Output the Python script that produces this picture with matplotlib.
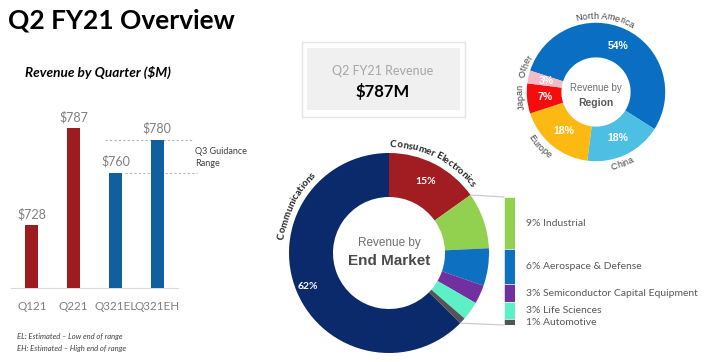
import numpy as np
import matplotlib
matplotlib.use('Agg')
import matplotlib.pyplot as plt
from matplotlib.patches import Rectangle, ConnectionPatch
from matplotlib.textpath import TextToPath
from matplotlib.font_manager import FontProperties

# data
quarters = ['Q121', 'Q221', 'Q321EL', 'Q321EH']
revenue = [728, 787, 760, 780]
guidance = [760, 780]

regions = ['North America', 'China', 'Europe', 'Japan', 'Other']
region_share = [54, 18, 18, 7, 3]

markets = ['Consumer Electronics', 'Industrial', 'Aerospace & Defense',
           'Semiconductor Capital Equipment', 'Life Sciences', 'Automotive',
           'Communications']
market_share = [15, 9, 6, 3, 3, 1, 62]

W, H = 707, 362
body = 'Lato'
arial = 'Liberation Sans'
grey = '#7f7f7f'
dark = '#404040'

fig = plt.figure(figsize=(W / 100, H / 100), dpi=100)


def px_axes(x0, y0, w, h):
    return fig.add_axes([x0 / W, 1 - (y0 + h) / H, w / W, h / H])


# background axes in pixel coords
bg = px_axes(0, 0, W, H)
bg.set_xlim(0, W)
bg.set_ylim(H, 0)
bg.axis('off')

bg.text(8, 28, 'Q2 FY21 Overview', fontsize=19, fontweight='bold',
        family=body, color='black', va='baseline')
bg.text(25, 72, 'Revenue by Quarter ($M)', fontsize=9.8, fontweight='bold',
        style='italic', family=body, color='black', va='center')
bg.text(17, 337, 'EL: Estimated \u2013 Low end of range', fontsize=5.5,
        style='italic', family=body, color=dark, va='center')
bg.text(17, 348, 'EH: Estimated \u2013 High end of range', fontsize=5.5,
        style='italic', family=body, color=dark, va='center')

# revenue box
bg.add_patch(Rectangle((302, 42), 163, 75, facecolor='white',
                       edgecolor='#e4e4e4', lw=1))
bg.add_patch(Rectangle((307, 48), 153, 62, facecolor='#f0f0f0',
                       edgecolor='none'))
bg.text(383, 71, 'Q2 FY21 Revenue', fontsize=9, family=body,
        color='#a6a6a6', ha='center', va='center')
bg.text(383, 92, '$787M', fontsize=12, fontweight='bold', family=body,
        color='black', ha='center', va='center')

# bar chart
ax = px_axes(11, 107, 167, 181)
colors = ['#9e1b20', '#9e1b20', '#10609f', '#10609f']
x = np.arange(len(quarters))
ax.bar(x, revenue, width=0.31, color=colors, zorder=3)
ax.set_xlim(-0.5, 3.5)
ax.set_ylim(690, 800)
for i, v in enumerate(revenue):
    ax.text(i, v + 3, f'${v}', ha='center', va='bottom', fontsize=9,
            family=body, color=grey)
ax.set_xticks(x, quarters, fontsize=8.4, family=body, color=grey)
ax.tick_params(axis='x', length=0, pad=9)
ax.set_yticks([])
for s in ['top', 'right', 'left']:
    ax.spines[s].set_visible(False)
ax.spines['bottom'].set_color('#d9d9d9')
ax.patch.set_alpha(0)
ax.plot([1.75, 3.84], [guidance[1]] * 2, ls=(0, (2, 2)), color='#b5b5b5',
        lw=0.8, clip_on=False, zorder=1)
ax.plot([2.23, 3.96], [guidance[0]] * 2, ls=(0, (2, 2)), color='#b5b5b5',
        lw=0.8, clip_on=False, zorder=1)
bg.text(195, 152, 'Q3 Guidance', fontsize=6.5, family=body, color=dark,
        va='center')
bg.text(195, 163, 'Range', fontsize=6.5, family=body, color=dark, va='center')

ttp = TextToPath()


def arc_text(a, s, r, mid, scale, outward=True, size=6.5, weight='normal',
             color=dark, family=arial):
    fp = FontProperties(family=family, size=size, weight=weight)
    widths = [ttp.get_text_width_height_descent(c, fp, ismath=False)[0]
              * 100 / 72 / scale for c in s]
    total = sum(widths) / r
    cum = 0
    for c, w in zip(s, widths):
        if outward:
            ang = np.radians(mid) + total / 2 - (cum + w / 2) / r
            rot = np.degrees(ang) - 90
        else:
            ang = np.radians(mid) - total / 2 + (cum + w / 2) / r
            rot = np.degrees(ang) + 90
        a.text(r * np.cos(ang), r * np.sin(ang), c, rotation=rot,
               rotation_mode='anchor', ha='center', va='baseline',
               fontproperties=fp, color=color)
        cum += w


# region donut
side = 180
axr = px_axes(596 - side / 2, 92 - side / 2, side, side)
reg_colors = ['#0a6fc2', '#4cbfe3', '#fdb913', '#f40d0d', '#f6b9c6']
wedges, _, autotexts = axr.pie(region_share, colors=reg_colors, startangle=162,
                               counterclock=False, autopct='%.0f%%',
                               pctdistance=0.74,
                               wedgeprops=dict(width=0.5, linewidth=0),
                               textprops=dict(color='white', fontsize=7.5,
                                              fontweight='bold', family=arial))
axr.set_xlim(-1.3, 1.3)
axr.set_ylim(-1.3, 1.3)
axr.set_aspect('equal')
axr.axis('off')
axr.text(0, 0.06, 'Revenue by', ha='center', va='center', fontsize=7,
         family=arial, color='#6f6f6f')
axr.text(0, -0.16, 'Region', ha='center', va='center', fontsize=7.5,
         fontweight='bold', family=arial, color='#595959')
sc = side / 2.6
arc_text(axr, 'North America', 1.06, 83, sc, outward=True)
arc_text(axr, 'Other', 1.05, 160, sc, outward=True)
arc_text(axr, 'Japan', 1.06, 184, sc, outward=True)
arc_text(axr, 'Europe', 1.18, 224, sc, outward=False)
arc_text(axr, 'China', 1.15, 290, sc, outward=False)

# end market donut
side = 260
axe = px_axes(389 - side / 2, 253 - side / 2, side, side)
em_colors = ['#a11d21', '#92d050', '#0d70c0', '#7030a0', '#5df0c6', '#555555',
             '#0b2a6b']
wedges, _ = axe.pie(market_share, colors=em_colors, startangle=90,
                    counterclock=False,
                    wedgeprops=dict(width=0.44, linewidth=0))
axe.set_xlim(-1.3, 1.3)
axe.set_ylim(-1.3, 1.3)
axe.set_aspect('equal')
axe.axis('off')
for idx, rr in [(0, 0.8), (6, 0.88)]:
    wd = wedges[idx]
    m = np.radians((wd.theta1 + wd.theta2) / 2)
    axe.text(rr * np.cos(m), rr * np.sin(m), f'{market_share[idx]}%',
             ha='center', va='center', color='white', fontsize=7.5,
             fontweight='bold', family=body)
axe.text(0, 0.1, 'Revenue by', ha='center', va='center', fontsize=8.5,
         family=arial, color='#6f6f6f')
axe.text(0, -0.08, 'End Market', ha='center', va='center', fontsize=11,
         fontweight='bold', family=arial, color='#4a4a4a')
sc = side / 2.6
arc_text(axe, 'Consumer Electronics', 1.06, 64, sc, outward=True, size=7,
         weight='bold', color='#222222', family=body)
arc_text(axe, 'Communications', 1.06, 153, sc, outward=True, size=7,
         weight='bold', color='#222222', family=body)

# detail bar for the small segments
detail = market_share[1:6]
axl = px_axes(504, 197, 11, 128)
bottoms = np.concatenate([[0], np.cumsum(detail)[:-1]])
axl.bar(0, detail, bottom=bottoms, width=1, color=em_colors[1:6],
        edgecolor='white', linewidth=0.4)
axl.set_xlim(-0.5, 0.5)
axl.set_ylim(sum(detail), 0)
axl.axis('off')
for b, v, name in zip(bottoms, detail, markets[1:6]):
    axl.text(1.5, b + v / 2, f'{v}% {name}', fontsize=7.5, family=body,
             color='#595959', va='center', ha='left', clip_on=False)

# connector lines
t_top = np.radians(wedges[1].theta2)
t_bot = np.radians(wedges[5].theta1)
for t, yb in [(t_top, 0), (t_bot, sum(detail))]:
    con = ConnectionPatch(xyA=(np.cos(t), np.sin(t)), coordsA=axe.transData,
                          xyB=(-0.5, yb), coordsB=axl.transData,
                          color='#c8c8c8', lw=0.8)
    fig.add_artist(con)

fig.savefig('out.png', dpi=100)
